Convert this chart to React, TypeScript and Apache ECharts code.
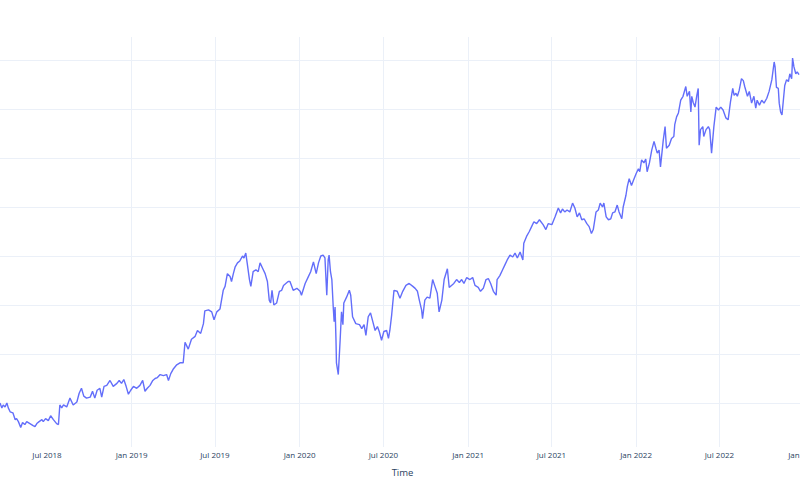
import React, { useEffect, useRef } from "react";
import * as echarts from "echarts";

const DAY_MS = 86400000;
const startDate = Date.UTC(2018, 2, 21);
const axisEndDate = Date.UTC(2023, 0, 3);

const monthNames = ["Jan", "Feb", "Mar", "Apr", "May", "Jun", "Jul", "Aug", "Sep", "Oct", "Nov", "Dec"];

// Tick positions of the time axis (labelled "Jul 2018" ... "Jan 2023")
const tickDates = [
  "2018-07-01", "2019-01-01", "2019-07-01", "2020-01-01", "2020-07-01",
  "2021-01-01", "2021-07-01", "2022-01-01", "2022-07-01", "2023-01-01",
];

// Days since 2018-03-21 for each observation
const dayOffsets = [
  0, 4, 7, 11, 15, 18, 22, 28, 33, 36, 40, 45, 49, 54, 58, 65, 72, 76, 80, 85, 91, 94, 99, 105, 110, 116, 123, 127, 130, 134,
  138, 145, 152, 159, 167, 172, 177, 182, 188, 196, 201, 206, 211, 217, 221, 226, 232, 239, 246, 254, 259, 264, 269, 274, 279,
  284, 290, 297, 304, 310, 315, 320, 326, 332, 337, 342, 348, 355, 362, 366, 371, 377, 384, 391, 398,
  402, 409, 416, 424, 429, 436, 442, 445, 453, 460, 465, 471, 478, 485, 489, 494, 500, 503, 507, 511, 516, 521, 527, 530, 534,
  537, 542, 545, 550, 556, 561, 565, 571, 576, 581, 585, 588, 591, 595, 601, 607, 612, 616, 621, 626,
  630, 637, 645, 652, 655, 663, 670, 675, 681, 687, 692, 697, 702, 706, 710, 713, 715, 718, 721, 724, 726, 728, 730, 731, 735,
  739, 742, 745, 747, 753, 759, 762, 766, 773, 781, 786, 791, 795, 800, 805, 810, 815, 820, 824, 829, 834, 840, 844, 847, 851,
  856, 863, 869, 875, 882, 889, 897, 902, 907, 911, 916, 918, 923, 928, 934, 940, 945, 950, 954, 960, 965, 972, 976, 981, 986,
  992, 998, 1003, 1008, 1014, 1021, 1027, 1032, 1039, 1044, 1050, 1056, 1061, 1066, 1072, 1078, 1080, 1086, 1092, 1097, 1102,
  1108, 1114, 1119, 1124, 1130, 1136, 1138, 1144, 1150, 1155, 1160, 1166, 1172,
  1180, 1186, 1191, 1199, 1206, 1213, 1218, 1222, 1227, 1232, 1238, 1244, 1249, 1254, 1259, 1264, 1269, 1275, 1280, 1285, 1289,
  1295, 1300, 1304, 1309, 1312, 1317, 1322, 1327, 1331, 1336, 1341, 1345, 1351, 1354, 1360, 1363, 1367, 1372, 1377, 1382, 1387,
  1390, 1394, 1399, 1403, 1406, 1411, 1416, 1421, 1425, 1428, 1432,
  1435, 1441, 1445, 1448, 1454, 1459, 1464, 1466, 1470, 1474, 1479, 1484, 1490, 1493, 1498, 1501, 1503, 1506, 1510, 1514, 1517,
  1519, 1522, 1527, 1529, 1534, 1539, 1542, 1546, 1551, 1556, 1561, 1566, 1571, 1577, 1582, 1587, 1592, 1595, 1599, 1602, 1606,
  1611, 1615, 1618, 1624, 1628, 1633, 1638, 1642, 1645, 1650, 1655, 1660, 1666, 1671, 1677, 1682, 1684, 1687, 1691, 1693, 1696,
  1699, 1702, 1705, 1709, 1713, 1716, 1720, 1722, 1725, 1729, 1732, 1736,
];

const values = [
  100, 95, 98, 96, 100, 95, 91, 90, 83, 84, 81, 75, 80, 78, 81, 79, 77, 76, 79, 81, 83, 81, 84, 82, 87, 83, 79, 78, 98, 95,
  98, 96, 105, 98, 101, 110, 115, 107, 105, 106, 112, 105, 113, 115, 106, 117, 118, 123, 117, 120, 123, 120, 124, 117, 109,
  113, 117, 115, 118, 123, 112, 115, 118, 123, 125, 126, 129, 128, 129, 123, 130, 135, 139, 141, 141,
  162, 155, 165, 168, 174, 171, 181, 194, 195, 193, 185, 193, 196, 215, 219, 232, 229, 224, 232, 239, 243, 245, 250, 248, 253,
  243, 226, 219, 234, 236, 234, 243, 237, 232, 224, 205, 202, 215, 200, 202, 214, 215, 220, 222, 224,
  224, 215, 217, 214, 210, 222, 229, 234, 244, 232, 243, 250, 251, 248, 210, 246, 251, 234, 226, 198, 183, 198, 164, 141, 129,
  164, 193, 180, 202, 208, 215, 210, 188, 181, 180, 176, 180, 169, 188, 192, 183, 174, 178, 173, 164, 173, 174, 166, 174, 190,
  215, 214, 207, 214, 220, 222, 219, 217, 214, 205, 195, 186, 205, 208, 207, 226, 219, 212, 193, 205, 226, 237, 218, 220, 222,
  226, 223, 226, 222, 228, 226, 228, 220, 218, 214, 217, 226, 227, 222, 214, 210, 226, 230, 236, 241, 246, 251, 249, 253, 248,
  254, 246, 263, 270, 275, 280, 285, 283, 287,
  282, 277, 283, 282, 290, 299, 294, 298, 295, 297, 295, 304, 299, 290, 294, 287, 288, 283, 280, 273, 277, 295, 297, 304, 300,
  304, 290, 287, 288, 294, 295, 302, 295, 288, 300, 312, 321, 329, 322, 328, 334, 339, 336, 348, 345, 349, 336, 345, 358, 367,
  360, 355, 358,
  341, 368, 382, 360, 363, 370, 372, 384, 392, 396, 409, 413, 423, 413, 418, 397, 413, 407, 402, 414, 421, 363, 379, 382, 372,
  379, 382, 379, 355, 382, 402, 399, 402, 399, 391, 389, 407, 421, 414, 416, 413, 419, 431, 429, 423, 413, 418, 406, 413, 401,
  409, 404, 409, 406, 411, 418, 430, 448, 443, 422, 421, 406, 397, 394, 409, 424, 430, 428, 436, 431, 452, 443, 436, 438, 435,
];

const yMin = 55.1;
const yMax = 473.5;

export default function App() {
  const ref = useRef<HTMLDivElement>(null);

  useEffect(() => {
    if (!ref.current) return;
    const chart = echarts.init(ref.current, null, { renderer: "svg" });
    const n = Math.min(dayOffsets.length, values.length);
    const data: [number, number][] = [];
    for (let i = 0; i < n; i++) data.push([startDate + dayOffsets[i] * DAY_MS, values[i]]);
    const tickValues = tickDates.map((s) => Date.parse(s + "T00:00:00Z"));

    const gridColor = "#ebf0f8";
    const textColor = "#2a3f5f";
    const font = "'Open Sans', Verdana, Arial, sans-serif";

    chart.setOption({
      animation: false,
      backgroundColor: "#ffffff",
      grid: { left: 0, right: -5, top: 37, bottom: 53, outerBoundsMode: "none", containLabel: false },
      xAxis: {
        type: "value",
        min: startDate,
        max: axisEndDate,
        name: "Time",
        nameLocation: "middle",
        nameGap: 20,
        nameTextStyle: { color: textColor, fontSize: 9.5, fontFamily: font },
        axisLine: { show: false },
        axisTick: { show: false, customValues: tickValues },
        axisLabel: {
          color: textColor,
          fontSize: 8,
          fontFamily: font,
          margin: 3,
          hideOverlap: false,
          customValues: tickValues,
          formatter: (val: number) => {
            const d = new Date(val);
            return monthNames[d.getUTCMonth()] + " " + d.getUTCFullYear();
          },
        },
        splitLine: { show: true, showMinLine: false, showMaxLine: false, lineStyle: { color: gridColor, width: 1 } },
      },
      yAxis: {
        type: "value",
        min: yMin,
        max: yMax,
        splitNumber: 8,
        axisLine: { show: false },
        axisTick: { show: false },
        axisLabel: { show: false },
        splitLine: { show: true, showMinLine: false, showMaxLine: false, lineStyle: { color: gridColor, width: 1 } },
      },
      series: [
        {
          type: "line",
          data,
          showSymbol: false,
          symbol: "none",
          lineStyle: { color: "#636efa", width: 1.4 },
          clip: true,
        },
      ],
    });
    return () => chart.dispose();
  }, []);

  return <div ref={ref} style={{ position: "absolute", left: 0, top: 0, width: 800, height: 500 }} />;
}
